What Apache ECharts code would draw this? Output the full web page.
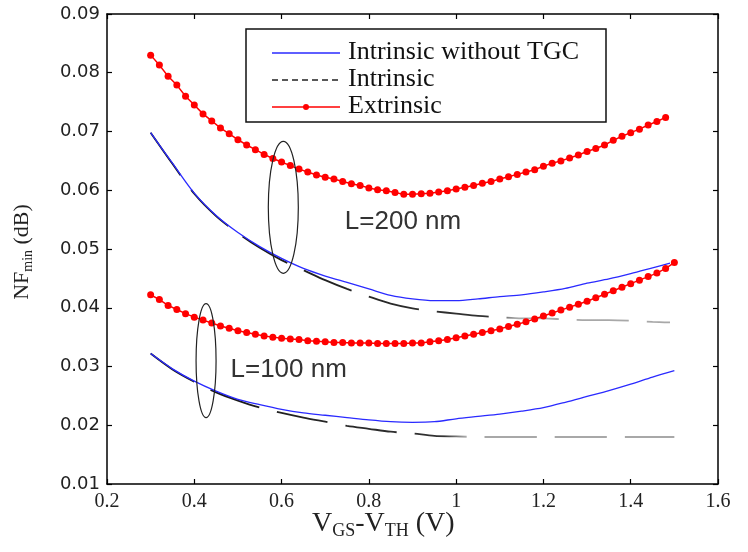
<!DOCTYPE html>
<html><head><meta charset="utf-8">
<script src="https://cdn.jsdelivr.net/npm/echarts@6/dist/echarts.min.js"></script>
<style>html,body{margin:0;padding:0;background:#fff}#c{width:748px;height:552px}</style>
</head><body><div id="c"></div>
<script>
// x positions of the marker series (Extrinsic)
const xMark = [0.30,0.32,0.34,0.36,0.38,0.40,0.42,0.44,0.46,0.48,0.50,0.52,0.54,0.56,0.58,0.60,0.62,0.64,0.66,0.68,0.70,0.72,0.74,0.76,0.78,0.80,0.82,0.84,0.86,0.88,0.90,0.92,0.94,0.96,0.98,1.00,1.02,1.04,1.06,1.08,1.10,1.12,1.14,1.16,1.18,1.20,1.22,1.24,1.26,1.28,1.30,1.32,1.34,1.36,1.38,1.40,1.42,1.44,1.46,1.48,1.50];
// Extrinsic, L=200 nm
const extrinsic200 = [0.0830,0.0813,0.0794,0.0779,0.0760,0.0745,0.0730,0.0718,0.0706,0.0696,0.0686,0.0677,0.0669,0.0661,0.0654,0.0648,0.0642,0.0636,0.0631,0.0626,0.0622,0.0619,0.0615,0.0611,0.0608,0.0604,0.0601,0.0599,0.0596,0.0593,0.0593,0.0594,0.0595,0.0597,0.0599,0.0602,0.0605,0.0608,0.0612,0.0615,0.0619,0.0623,0.0627,0.0631,0.0635,0.0641,0.0646,0.0650,0.0655,0.0660,0.0666,0.0671,0.0677,0.0685,0.0692,0.0698,0.0704,0.0711,0.0717,0.0724];
// Extrinsic, L=100 nm
const extrinsic100 = [0.0422,0.0414,0.0404,0.0397,0.0390,0.0384,0.0379,0.0374,0.0369,0.0365,0.0361,0.0358,0.0355,0.0352,0.0350,0.0348,0.0347,0.0346,0.0344,0.0343,0.0342,0.0341,0.0341,0.0340,0.0340,0.0340,0.0339,0.0339,0.0339,0.0339,0.0340,0.0340,0.0342,0.0344,0.0346,0.0349,0.0352,0.0355,0.0358,0.0361,0.0364,0.0368,0.0372,0.0376,0.0381,0.0386,0.0391,0.0396,0.0401,0.0406,0.0411,0.0417,0.0423,0.0429,0.0435,0.0441,0.0447,0.0453,0.0459,0.0467,0.0477];
// Line series, L=200 nm
const xLine200 = [0.30,0.35,0.40,0.45,0.50,0.55,0.60,0.65,0.70,0.75,0.80,0.85,0.90,0.95,1.00,1.05,1.10,1.15,1.20,1.25,1.30,1.35,1.40,1.45,1.49];
const noTGC200 = [0.0698,0.0646,0.0595,0.0557,0.0528,0.0504,0.0484,0.0467,0.0454,0.0443,0.0432,0.0421,0.0415,0.0412,0.0412,0.0415,0.0419,0.0422,0.0427,0.0433,0.0442,0.0449,0.0458,0.0468,0.0476];
const intrinsic200 = [0.0698,0.0645,0.0594,0.0556,0.0527,0.0502,0.0481,0.0464,0.0447,0.0432,0.0419,0.0407,0.0399,0.0394,0.0390,0.0386,0.0384,0.0382,0.0382,0.0380,0.0379,0.0379,0.0378,0.0376,0.0375];
// Line series, L=100 nm
const xLine100 = [0.30,0.35,0.40,0.45,0.50,0.55,0.60,0.65,0.70,0.75,0.80,0.85,0.90,0.95,1.00,1.05,1.10,1.15,1.20,1.25,1.30,1.35,1.40,1.45,1.50];
const noTGC100 = [0.0322,0.0296,0.0275,0.0258,0.0244,0.0235,0.0227,0.0221,0.0217,0.0213,0.0209,0.0206,0.0205,0.0206,0.0211,0.0215,0.0219,0.0224,0.0230,0.0239,0.0249,0.0259,0.0270,0.0282,0.0293];
const intrinsic100 = [0.0322,0.0295,0.0274,0.0256,0.0242,0.0230,0.0221,0.0213,0.0206,0.0199,0.0194,0.0189,0.0186,0.0182,0.0181,0.0180,0.0180,0.0180,0.0180,0.0180,0.0180,0.0180,0.0180,0.0180,0.0180];
// tick labels
const xTickLabels = ['0.2','0.4','0.6','0.8','1','1.2','1.4','1.6'];
const yTickLabels = ['0.01','0.02','0.03','0.04','0.05','0.06','0.07','0.08','0.09'];
const legendNames = ['Intrinsic without TGC','Intrinsic','Extrinsic'];
const groupLabels = ['L=200 nm','L=100 nm'];

const pairs = (xs, ys) => ys.map((y, i) => [xs[i], y]);
const chart = echarts.init(document.getElementById('c'), null, {renderer:'canvas'});

const axisLine = {show:true, lineStyle:{color:'#000', width:1.5}};
const axisTick = {show:true, inside:true, length:5, lineStyle:{color:'#000', width:1.2}};
const xFmt = v => xTickLabels[Math.round((v - 0.2) / 0.2)];
const yFmt = v => yTickLabels[Math.round((v - 0.01) / 0.01)];

const grad = (s) => new echarts.graphic.LinearGradient(0,0,1,0,[
  {offset:0, color:'#111'},{offset:s, color:'#333'},{offset:s+0.04, color:'#a8a8a8'},{offset:1, color:'#a8a8a8'}]);

chart.setOption({
  animation:false,
  grid:{left:107, right:30, top:14, bottom:68},
  xAxis:[
    {type:'value', min:0.2, max:1.6, interval:0.2, axisLine, axisTick, splitLine:{show:false},
     axisLabel:{formatter:xFmt, fontFamily:'Liberation Serif', fontSize:20, color:'#222', margin:8}},
    {type:'value', position:'top', min:0.2, max:1.6, interval:0.2, axisLine, axisTick, splitLine:{show:false}, axisLabel:{show:false}}
  ],
  yAxis:[
    {type:'value', min:0.01, max:0.09, interval:0.01, axisLine, axisTick, splitLine:{show:false},
     axisLabel:{formatter:yFmt, fontFamily:'DejaVu Sans', fontSize:18, color:'#222', margin:7}},
    {type:'value', position:'right', min:0.01, max:0.09, interval:0.01, axisLine, axisTick, splitLine:{show:false}, axisLabel:{show:false}}
  ],
  series:[
    {name:legendNames[1], type:'line', data:pairs(xLine200, intrinsic200), symbol:'none', smooth:0.3,
     lineStyle:{color:grad(0.66), width:1.8, type:[52,18]}},
    {name:legendNames[1], type:'line', data:pairs(xLine100, intrinsic100), symbol:'none', smooth:0.3,
     lineStyle:{color:grad(0.56), width:1.8, type:[52,18]}},
    {name:legendNames[0], type:'line', data:pairs(xLine200, noTGC200), symbol:'none', smooth:0.3,
     lineStyle:{color:'#2a2aff', width:1.3}},
    {name:legendNames[0], type:'line', data:pairs(xLine100, noTGC100), symbol:'none', smooth:0.3,
     lineStyle:{color:'#2a2aff', width:1.3}},
    {name:legendNames[2], type:'line', data:pairs(xMark, extrinsic200), symbol:'circle', symbolSize:7, showAllSymbol:true,
     lineStyle:{color:'#ff0000', width:1.5}, itemStyle:{color:'#ff0000'}},
    {name:legendNames[2], type:'line', data:pairs(xMark, extrinsic100), symbol:'circle', symbolSize:7, showAllSymbol:true,
     lineStyle:{color:'#ff0000', width:1.5}, itemStyle:{color:'#ff0000'}}
  ]
});

// annotations in data coordinates
const ellipses = [{c:[0.604,0.0571], rx:15, ry:66}, {c:[0.427,0.0310], rx:10, ry:57}];
const labelPos = [[0.745,0.0547],[0.483,0.0294]];
const P = p => chart.convertToPixel({xAxisIndex:0, yAxisIndex:0}, p);

const g = [];
ellipses.forEach(e => {
  const p = P(e.c);
  g.push({type:'ellipse', shape:{cx:p[0], cy:p[1], rx:e.rx, ry:e.ry}, style:{fill:null, stroke:'#222', lineWidth:1.2}, z:50});
});
labelPos.forEach((lp, i) => {
  const p = P(lp);
  g.push({type:'text', x:p[0], y:p[1], style:{text:groupLabels[i], fontFamily:'Liberation Sans', fontSize:26, fill:'#333', verticalAlign:'middle', align:'left'}, z:50});
});
// legend box
g.push({type:'rect', shape:{x:246, y:29, width:360, height:93}, style:{fill:'#fff', stroke:'#111', lineWidth:1.5}, z:60});
const rows = [53, 80, 107];
g.push({type:'line', shape:{x1:272, y1:rows[0], x2:340, y2:rows[0]}, style:{stroke:'#2a2aff', lineWidth:1.5}, z:61});
g.push({type:'line', shape:{x1:272, y1:rows[1], x2:340, y2:rows[1]}, style:{stroke:'#222', lineWidth:1.5, lineDash:[6,4]}, z:61});
g.push({type:'line', shape:{x1:272, y1:rows[2], x2:340, y2:rows[2]}, style:{stroke:'#ff0000', lineWidth:1.5}, z:61});
g.push({type:'circle', shape:{cx:306, cy:rows[2], r:3}, style:{fill:'#ff0000'}, z:62});
legendNames.forEach((n, i) => {
  g.push({type:'text', x:348, y:rows[i] - 1, style:{text:n, fontFamily:'Liberation Serif', fontSize:26, fill:'#111', verticalAlign:'middle'}, z:62});
});
// axis titles
g.push({type:'text', x:312, y:524, style:{
  text:'{a|V}{s|GS}{a|-V}{s|TH}{a| (V)}', verticalAlign:'middle',
  rich:{a:{fontFamily:'Liberation Serif', fontSize:28, fill:'#222'}, s:{fontFamily:'Liberation Serif', fontSize:18, fill:'#222', padding:[14,0,0,0]}}}, z:50});
g.push({type:'text', x:22, y:252, rotation:Math.PI/2, style:{
  text:'{a|NF}{s|min}{a| (dB)}', align:'center', verticalAlign:'middle',
  rich:{a:{fontFamily:'Liberation Serif', fontSize:22, fill:'#222'}, s:{fontFamily:'Liberation Serif', fontSize:14, fill:'#222', padding:[12,0,0,0]}}}, z:50});
chart.setOption({graphic:g});
</script>
</body></html>
